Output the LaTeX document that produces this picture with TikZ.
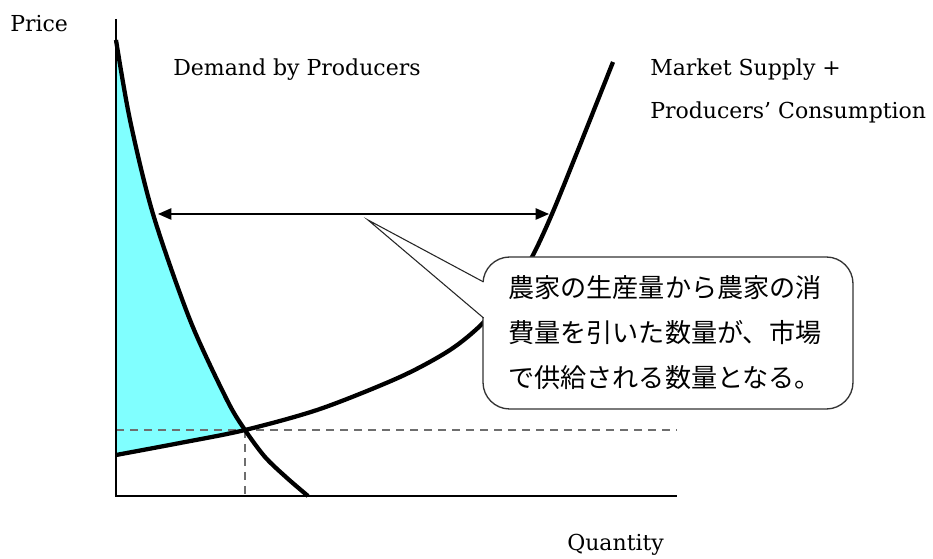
\documentclass[tikz,border=0pt]{standalone}
\usepackage{fontspec}
\setmainfont{DejaVu Serif}
\newfontfamily\jp{Noto Sans CJK JP}
\usetikzlibrary{arrows.meta}
\definecolor{fillcyan}{HTML}{80FFFF}
\definecolor{dashgray}{HTML}{6E6E6E}
\newlength{\pxu}\setlength{\pxu}{0.75pt}
\tikzset{
  axisline/.style={line width=1.1pt,black},
  curve/.style={line width=3.2pt,black,line join=round},
  guide/.style={line width=2pt,dashgray,dash pattern=on 6pt off 4.5pt},
  lbl/.style={font=\fontsize{16.5}{19}\selectfont,inner sep=0pt,anchor=west},
  span/.style={line width=1.1pt,{Triangle[length=10pt,width=8.5pt]}-{Triangle[length=10pt,width=8.5pt]}},
  bubble/.style={draw=black!80,line width=1pt,fill=white,rounded corners=20pt,minimum width=370\pxu,minimum height=152\pxu,inner sep=0pt},
  jptext/.style={font=\jp\fontsize{19.6}{33.75}\selectfont,align=left}
}
\begin{document}
\begin{tikzpicture}[x=0.75pt,y=-0.75pt]
\useasboundingbox (0,0) rectangle (933,559);
% key points
\coordinate (O) at (116,496);
\coordinate (ytop) at (116,19);
\coordinate (xend) at (677,496);
\coordinate (E) at (245,430);
\coordinate (Eaxis) at (116,430);
\coordinate (Ebase) at (245,496);
\coordinate (hend) at (677,430);
% shaded area
\fill[fillcyan] plot[smooth,tension=0.5] coordinates {(116,40) (130,120) (153,214) (190,320) (227,400) (245,430)}
  -- plot[smooth,tension=0.5] coordinates {(245,430) (180,443) (116,455)} -- cycle;
% guides
\draw[guide] (Eaxis) -- (hend);
\draw[guide] (E) -- (Ebase);
% axes
\draw[axisline] (ytop) -- (O) -- (xend);
% demand
\draw[curve] plot[smooth,tension=0.5] coordinates {(116,40) (130,120) (153,214) (190,320) (227,400) (245,430) (265,457) (287,478) (308,496)};
% supply
\draw[curve] plot[smooth,tension=0.5] coordinates {(116,455) (180,443) (245,430) (320,409) (400,377) (450,350) (483,323) (512,288) (532,257) (552,214) (578,150) (613,62)};
% span arrow
\coordinate (aL) at (158,214);
\coordinate (aR) at (549,214);
\draw[span] (aL) -- (aR);
% callout
\node[bubble] (call) at (668,333) {};
\node[jptext] (calltext) at (665,333) {農家の生産量から農家の消\\費量を引いた数量が、市場\\で供給される数量となる。};
\coordinate (tip) at (368,220);
\coordinate (pU) at (483.6,282);
\coordinate (pD) at (483.6,318);
\fill[white] (pU) -- (tip) -- (pD) -- ([xshift=2pt]pD) -- ([xshift=2pt]pU) -- cycle;
\draw[black!85,line width=0.8pt,line join=miter] (pU) -- (tip) -- (pD);
% labels
\node[lbl] (price) at (10,24) {Price};
\node[lbl] (dem) at (173,70) {Demand by Producers};
\node[lbl] (sup1) at (650,70) {Market Supply +};
\node[lbl] (sup2) at (650,112) {Producers' Consumption};
\node[lbl] (qty) at (567,545) {Quantity};
\end{tikzpicture}
\end{document}
